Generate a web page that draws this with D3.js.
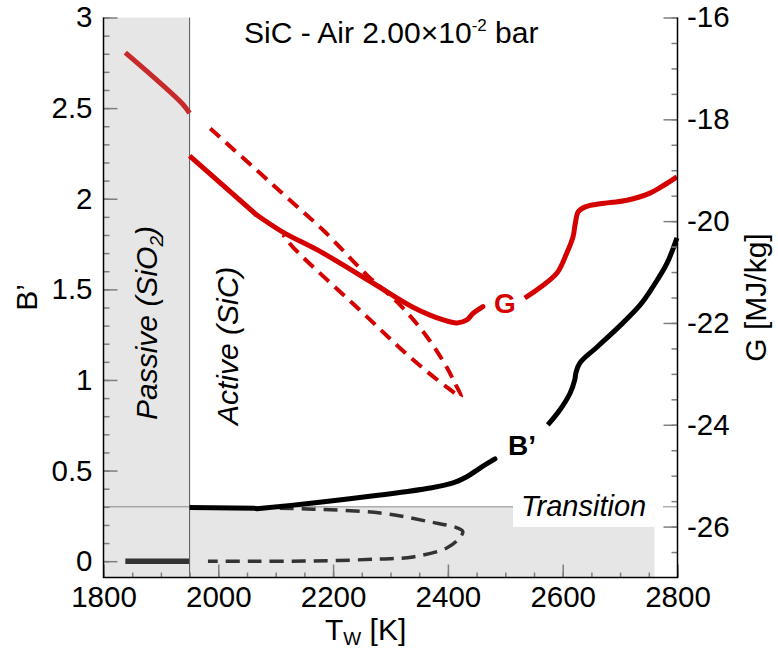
<!DOCTYPE html>
<html>
<head>
<meta charset="utf-8">
<script src="https://cdn.jsdelivr.net/npm/d3@7"></script>
<style>
  html, body { margin: 0; padding: 0; background: #fff; }
  svg { display: block; font-family: "Liberation Sans", Arial, Helvetica, sans-serif; }
</style>
</head>
<body>
<svg id="chart" width="778" height="652"></svg>
<script>
// ---- axis ticks ----
const xTicks = [1800, 2000, 2200, 2400, 2600, 2800];
const bTicks = [0, 0.5, 1, 1.5, 2, 2.5, 3];
const gTicks = [-26, -24, -22, -20, -18, -16];

// ---- regime boundaries ----
const passiveLimitT = 1950;      // passive (SiO2) / active (SiC) wall temperature
const transitionB = 0.3;         // B' level of the transition band
const transitionEndT = 2760;

// ---- G [MJ/kg] curves ----
const gPassiveT = [1838, 1937, 1950];
const gPassiveG = [-16.69, -17.69, -17.88];

const gActiveAT = [1950, 2067];
const gActiveAG = [-18.72, -19.88];

const gActiveBT = [2067, 2113, 2175, 2270, 2339, 2392, 2416, 2433, 2444, 2461];
const gActiveBG = [-19.88, -20.22, -20.58, -21.22, -21.69, -21.94, -22.0, -21.94, -21.81, -21.68];

const gActiveCT = [2534, 2560, 2590, 2607, 2618, 2622, 2627, 2639, 2665, 2712, 2752, 2777, 2799];
const gActiveCG = [-21.51, -21.31, -21.02, -20.63, -20.31, -20.04, -19.82, -19.72, -19.66, -19.59, -19.45, -19.29, -19.13];

const gUnstableT = [1986, 2067, 2125, 2182, 2259, 2317, 2364, 2398, 2412, 2423, 2398, 2334, 2247, 2130, 2113];
const gUnstableG = [-18.18, -19.0, -19.59, -20.17, -21.06, -21.65, -22.28, -22.87, -23.18, -23.45, -23.26, -22.67, -21.75, -20.51, -20.27];

// ---- B' curves ----
const bPassiveT = [1838, 1949];
const bPassiveB = [0, 0];

const bActiveAT = [1950, 2067];
const bActiveAB = [0.296, 0.292];

const bActiveBT = [2067, 2165, 2282, 2369, 2409, 2433, 2456, 2482];
const bActiveBB = [0.289, 0.321, 0.365, 0.404, 0.432, 0.466, 0.514, 0.564];

const bActiveCT = [2574, 2595, 2613, 2621, 2623, 2630, 2660, 2700, 2735, 2757, 2782, 2799];
const bActiveCB = [0.752, 0.834, 0.928, 1.0, 1.039, 1.094, 1.182, 1.30, 1.414, 1.513, 1.646, 1.784];

const bUnstableT = [2107, 2165, 2282, 2369, 2416, 2426, 2418, 2398, 2339, 2282, 2165, 2060, 1982];
const bUnstableB = [0.292, 0.287, 0.266, 0.217, 0.184, 0.163, 0.12, 0.073, 0.023, 0.012, 0.001, 0, 0];

// ---- layout ----
const svg = d3.select("#chart");
const plotL = 103.5, plotR = 677.5, plotT = 17.5, plotB = 577.5;

const x = d3.scaleLinear().domain([1800, 2800]).range([plotL, plotR]);
const yB = d3.scaleLinear().domain([-0.09, 3]).range([plotB, plotT]);
const yG = d3.scaleLinear().domain([-27, -16]).range([plotB, plotT]);

const RED = "#d50000";
const RED_DIM = "#c62a2a";
const DARK = "#333333";
const TICK_FONT = 29.5;

// ---- regime shading ----
svg.append("rect")
  .attr("x", x(1800)).attr("y", plotT)
  .attr("width", x(passiveLimitT) - x(1800)).attr("height", plotB - plotT)
  .attr("fill", "#e6e6e6");
svg.append("rect")
  .attr("x", x(passiveLimitT)).attr("y", yB(transitionB))
  .attr("width", x(transitionEndT) - x(passiveLimitT)).attr("height", plotB - yB(transitionB))
  .attr("fill", "#e6e6e6");

svg.append("line")
  .attr("x1", x(1800)).attr("x2", x(2800))
  .attr("y1", yB(transitionB)).attr("y2", yB(transitionB))
  .attr("stroke", "#8a8a8a").attr("stroke-width", 1);
svg.append("line")
  .attr("x1", x(passiveLimitT)).attr("x2", x(passiveLimitT))
  .attr("y1", plotT).attr("y2", plotB)
  .attr("stroke", "#555").attr("stroke-width", 1);

// ---- curves ----
function drawCurve(ts, vs, yScale, color, width, dash, cap) {
  const line = d3.line()
    .x(d => x(d[0])).y(d => yScale(d[1]))
    .curve(d3.curveCatmullRom.alpha(0.5));
  const p = svg.append("path")
    .datum(d3.zip(ts, vs))
    .attr("d", line)
    .attr("fill", "none")
    .attr("stroke", color)
    .attr("stroke-width", width)
    .attr("stroke-linejoin", "round")
    .attr("stroke-linecap", cap || "butt");
  if (dash) p.attr("stroke-dasharray", dash);
  return p;
}

drawCurve(bUnstableT, bUnstableB, yB, DARK, 3.5, "14,8");
drawCurve(bPassiveT, bPassiveB, yB, DARK, 5.5);
drawCurve(bActiveAT, bActiveAB, yB, "#000", 5);
drawCurve(bActiveBT, bActiveBB, yB, "#000", 5, null, "round");
drawCurve(bActiveCT, bActiveCB, yB, "#000", 5);

drawCurve(gUnstableT, gUnstableG, yG, RED, 4, "13,8");
drawCurve(gPassiveT, gPassiveG, yG, RED_DIM, 5);
drawCurve(gActiveAT, gActiveAG, yG, RED, 5);
drawCurve(gActiveBT, gActiveBG, yG, RED, 5, null, "round");
drawCurve(gActiveCT, gActiveCG, yG, RED, 5);

// ---- transition label ----
svg.append("rect")
  .attr("x", 513).attr("y", 486)
  .attr("width", 150).attr("height", yB(0.2) - 486 + 2)
  .attr("fill", "#fff");
svg.append("text")
  .attr("x", 521).attr("y", 515.5)
  .attr("font-size", 29).attr("font-style", "italic")
  .text("Transition");

// ---- regime labels ----
const passiveLabel = svg.append("text")
  .attr("transform", "translate(157,420) rotate(-90)")
  .attr("font-size", 30).attr("font-style", "italic");
passiveLabel.append("tspan").text("Passive (SiO");
passiveLabel.append("tspan").attr("font-size", 19).attr("dy", 6).text("2");
passiveLabel.append("tspan").attr("dy", -6).text(")");

svg.append("text")
  .attr("transform", "translate(238,425) rotate(-90)")
  .attr("font-size", 30).attr("font-style", "italic")
  .text("Active (SiC)");

// ---- title ----
const title = svg.append("text")
  .attr("x", 244).attr("y", 42.7)
  .attr("font-size", 30);
title.append("tspan").text("SiC - Air 2.00×10");
title.append("tspan").attr("font-size", 17).attr("dy", -12).text("-2");
title.append("tspan").attr("dy", 12).text(" bar");

// ---- curve labels ----
svg.append("text")
  .attr("x", 505).attr("y", 313).attr("text-anchor", "middle")
  .attr("font-size", 28).attr("font-weight", "bold").attr("fill", RED)
  .text("G");
svg.append("text")
  .attr("x", 508).attr("y", 455)
  .attr("font-size", 28).attr("font-weight", "bold")
  .text("B’");

// ---- axes ----
const TICK = "#7f7f7f";
function styleAxis(g) {
  g.select(".domain").remove();
  g.selectAll(".tick line").attr("stroke", TICK).attr("stroke-width", 1.5);
  g.selectAll(".tick text").attr("fill", "#000");
  g.attr("font-family", null).attr("font-size", TICK_FONT);
}

// bottom
svg.append("g").attr("transform", `translate(0,${plotB})`)
  .call(d3.axisBottom(x).tickValues(d3.range(1800, 2801, 50)).tickSize(-5).tickFormat(""))
  .call(styleAxis);
svg.append("g").attr("transform", `translate(0,${plotB})`)
  .call(d3.axisBottom(x).tickValues(xTicks).tickSize(-13).tickPadding(9).tickFormat(d3.format("d")))
  .call(styleAxis);

// left
svg.append("g").attr("transform", `translate(${plotL},0)`)
  .call(d3.axisLeft(yB).tickValues(d3.range(0, 31).map(i => i / 10)).tickSize(-6).tickFormat(""))
  .call(styleAxis);
svg.append("g").attr("transform", `translate(${plotL},0)`)
  .call(d3.axisLeft(yB).tickValues(bTicks).tickSize(-14).tickPadding(11).tickFormat(d => String(d)))
  .call(styleAxis);

// right
svg.append("g").attr("transform", `translate(${plotR},0)`)
  .call(d3.axisRight(yG).tickValues(d3.range(-26.5, -15.9, 0.5)).tickSize(-6).tickFormat(""))
  .call(styleAxis);
svg.append("g").attr("transform", `translate(${plotR},0)`)
  .call(d3.axisRight(yG).tickValues(gTicks).tickSize(-14).tickPadding(9.5).tickFormat(d => String(d)))
  .call(styleAxis);

// axis lines
svg.append("path")
  .attr("d", `M${plotL},${plotT}V${plotB}H${plotR}V${plotT}`)
  .attr("fill", "none").attr("stroke", "#000").attr("stroke-width", 1.5);

// ---- axis titles ----
svg.append("text")
  .attr("transform", "translate(37,297.5) rotate(-90)")
  .attr("text-anchor", "middle").attr("font-size", 30)
  .text("B’");

const xTitle = svg.append("text")
  .attr("x", 325).attr("y", 640)
  .attr("font-size", 30);
xTitle.append("tspan").text("T");
xTitle.append("tspan").attr("font-size", 19).attr("dy", 5).text("W");
xTitle.append("tspan").attr("dy", -5).text(" [K]");

svg.append("text")
  .attr("transform", "translate(766,297.5) rotate(-90)")
  .attr("text-anchor", "middle").attr("font-size", 30)
  .text("G [MJ/kg]");
</script>
</body>
</html>
